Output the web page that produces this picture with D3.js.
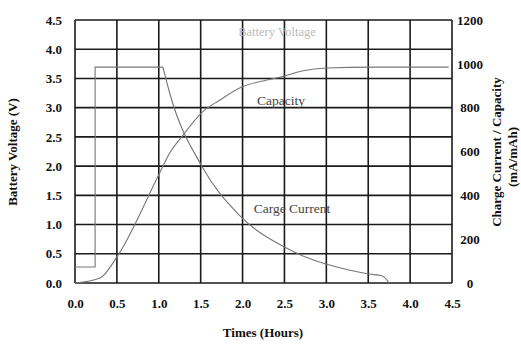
<!DOCTYPE html>
<html><head><meta charset="utf-8">
<script src="https://cdn.jsdelivr.net/npm/d3@7"></script>
<style>body{margin:0;background:#fff}svg{display:block}text{font-family:"Liberation Serif","Times New Roman",serif}</style>
</head><body>
<svg id="c" width="521" height="345"></svg>
<script>
const xTicks = [0,0.5,1,1.5,2,2.5,3,3.5,4,4.5];
const vTicks = [0,0.5,1,1.5,2,2.5,3,3.5,4,4.5];
const rTicks = [0,200,400,600,800,1000,1200];
// charge current (mA) vs time (h): constant-current step, then decay
const stepT = [0,0.24,0.24,1.05];
const stepV = [73,73,985,985];
const decayT = [1.05,1.13,1.52,1.96,2.5,2.76,3.27,3.51,3.67,3.75];
const decayV = [985,867,529,310,164,117,59,41,32,0];
// capacity (mAh) vs time (h)
const capT = [0,0.3,0.5,1.01,1.13,1.29,1.51,1.73,1.99,2.29,2.5,2.71,3.0,3.55,4.46];
const capV = [0,23,119,502,593,675,776,835,894,926,944,967,981,985,985];

const svg = d3.select("#c");
const L=75,R=452,T=20,B=283;
const x=d3.scaleLinear().domain([0,4.5]).range([L,R]);
const yV=d3.scaleLinear().domain([0,4.5]).range([B,T]);
const yR=d3.scaleLinear().domain([0,1200]).range([B,T]);

const g=svg.append("g");
g.selectAll(".gx").data(xTicks).enter().append("line")
 .attr("x1",d=>x(d)).attr("x2",d=>x(d)).attr("y1",T).attr("y2",B)
 .attr("stroke","#1a1a1a").attr("stroke-width",1.6);
g.selectAll(".gy").data(vTicks).enter().append("line")
 .attr("y1",d=>yV(d)).attr("y2",d=>yV(d)).attr("x1",L).attr("x2",R)
 .attr("stroke","#1a1a1a").attr("stroke-width",1.6);

const ax=svg.append("g").attr("transform",`translate(0,${B})`)
 .call(d3.axisBottom(x).tickValues(xTicks).tickFormat(d3.format(".1f")).tickSize(0).tickPadding(16));
const ay=svg.append("g").attr("transform",`translate(${L},0)`)
 .call(d3.axisLeft(yV).tickValues(vTicks).tickFormat(d3.format(".1f")).tickSize(0).tickPadding(13));
const ar=svg.append("g").attr("transform",`translate(${R},0)`)
 .call(d3.axisRight(yR).tickValues(rTicks).tickFormat(d3.format("d")).tickSize(0).tickPadding(18));
[ax,ay,ar].forEach(a=>{a.select(".domain").remove();
 a.selectAll("text").attr("font-size",13).attr("font-weight","bold").attr("fill","#111")
  .attr("font-family","'Liberation Serif',serif");});
ar.selectAll("text").attr("text-anchor","middle");

svg.append("path").datum(stepT.map((t,i)=>[t,stepV[i]]))
 .attr("d",d3.line().x(d=>x(d[0])).y(d=>yR(d[1])))
 .attr("fill","none").attr("stroke","#777").attr("stroke-width",1.1);
svg.append("path").datum(decayT.map((t,i)=>[t,decayV[i]]))
 .attr("d",d3.line().x(d=>x(d[0])).y(d=>yR(d[1])).curve(d3.curveMonotoneX))
 .attr("fill","none").attr("stroke","#777").attr("stroke-width",1.1);
svg.append("path").datum(capT.map((t,i)=>[t,capV[i]]))
 .attr("d",d3.line().x(d=>x(d[0])).y(d=>yR(d[1])).curve(d3.curveMonotoneX))
 .attr("fill","none").attr("stroke","#777").attr("stroke-width",1.1);

svg.append("text").attr("x",277).attr("y",36).attr("text-anchor","middle")
 .attr("font-size",12.5).attr("fill","#bbb").text("Battery Voltage");
svg.append("text").attr("x",281).attr("y",105).attr("text-anchor","middle")
 .attr("font-size",13.5).attr("fill","#444").text("Capacity");
svg.append("text").attr("x",292).attr("y",213).attr("text-anchor","middle")
 .attr("font-size",13.5).attr("fill","#444").text("Carge Current");

svg.append("text").attr("x",263).attr("y",337).attr("text-anchor","middle")
 .attr("font-size",13).attr("font-weight","bold").attr("fill","#111").text("Times (Hours)");
svg.append("text").attr("transform","translate(17,152) rotate(-90)").attr("text-anchor","middle")
 .attr("font-size",13).attr("font-weight","bold").attr("fill","#111").text("Battery Voltage (V)");
svg.append("text").attr("transform","translate(501,152) rotate(-90)").attr("text-anchor","middle")
 .attr("font-size",13).attr("font-weight","bold").attr("fill","#111").text("Charge Current / Capacity");
svg.append("text").attr("transform","translate(517,157) rotate(-90)").attr("text-anchor","middle")
 .attr("font-size",13).attr("font-weight","bold").attr("fill","#111").text("(mA/mAh)");
</script>
</body></html>
